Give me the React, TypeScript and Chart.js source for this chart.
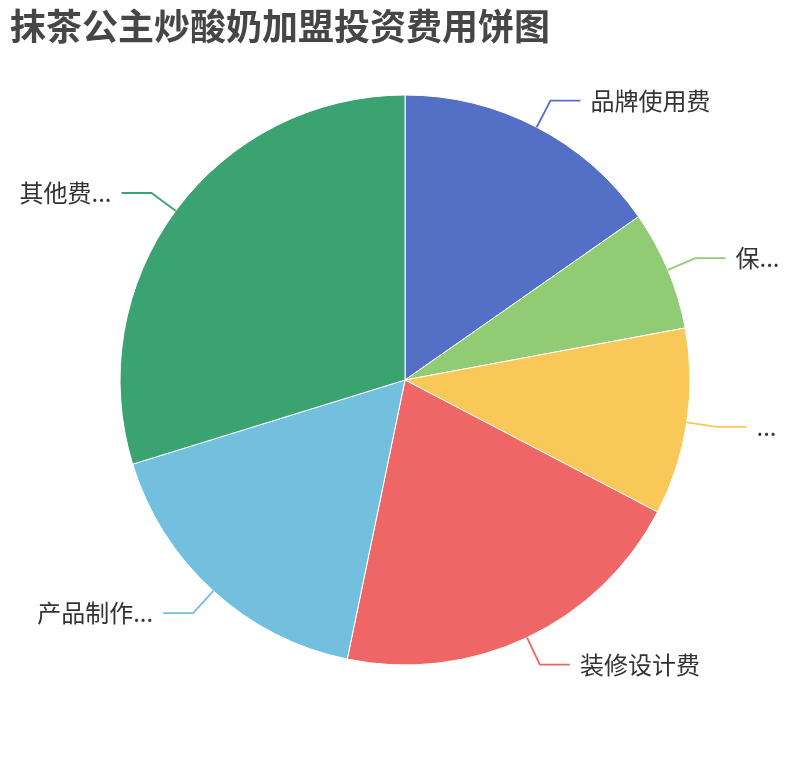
import { useEffect, useRef } from "react";
import { Chart, registerables } from "chart.js";

Chart.register(...registerables);

const TITLE = "抹茶公主炒酸奶加盟投资费用饼图";
const categories = ["品牌使用费", "保证金押金", "设备采购费", "装修设计费", "产品制作培训费", "其他费用合计"];
const values = [15.3, 6.8, 10.6, 20.6, 17.0, 29.8];
const colors = ["#5470c6", "#91cc75", "#fac858", "#ee6666", "#73c0de", "#3ba272"];

const FONT = '"Noto Sans CJK SC", "Noto Sans", sans-serif';

function fitText(ctx: CanvasRenderingContext2D, text: string, maxWidth: number) {
  if (ctx.measureText(text).width <= maxWidth) return text;
  let out = text;
  while (out.length > 0) {
    out = out.slice(0, -1);
    if (ctx.measureText(out + "...").width <= maxWidth) return out + "...";
  }
  return "...";
}

const outerLabels = {
  id: "outerLabels",
  afterDatasetsDraw(chart: Chart) {
    const { ctx, width } = chart;
    const meta = chart.getDatasetMeta(0);
    const edge = 16;
    ctx.save();
    meta.data.forEach((arc: any, i: number) => {
      const { x, y, startAngle, endAngle, outerRadius } = arc.getProps(
        ["x", "y", "startAngle", "endAngle", "outerRadius"],
        true
      );
      const mid = (startAngle + endAngle) / 2;
      const cos = Math.cos(mid);
      const sin = Math.sin(mid);
      const p1x = x + cos * outerRadius;
      const p1y = y + sin * outerRadius;
      const p2x = x + cos * (outerRadius + 30);
      const p2y = y + sin * (outerRadius + 30);
      const dir = cos >= 0 ? 1 : -1;
      const p3x = p2x + dir * 30;

      ctx.strokeStyle = colors[i];
      ctx.lineWidth = 1.8;
      ctx.beginPath();
      ctx.moveTo(p1x, p1y);
      ctx.lineTo(p2x, p2y);
      ctx.lineTo(p3x, p2y);
      ctx.stroke();

      const tx = p3x + dir * 10;
      ctx.font = `24px ${FONT}`;
      ctx.fillStyle = "#333";
      ctx.textBaseline = "middle";
      ctx.textAlign = dir > 0 ? "left" : "right";
      const avail = dir > 0 ? width - edge - tx : tx - edge;
      ctx.fillText(fitText(ctx, categories[i], avail), tx, p2y);
    });

    ctx.font = `bold 36px ${FONT}`;
    ctx.fillStyle = "#464646";
    ctx.textAlign = "left";
    ctx.textBaseline = "middle";
    ctx.fillText(TITLE, 10, 26);
    ctx.restore();
  },
};

export default function App() {
  const canvasRef = useRef<HTMLCanvasElement>(null);
  const chartRef = useRef<Chart<"pie"> | null>(null);

  useEffect(() => {
    document.body.style.margin = "0";
    if (!canvasRef.current) return;
    if (chartRef.current) chartRef.current.destroy();
    const ctx = canvasRef.current.getContext("2d");
    if (!ctx) return;

    chartRef.current = new Chart(ctx, {
      type: "pie",
      data: {
        labels: categories,
        datasets: [
          {
            data: values,
            backgroundColor: colors,
            borderColor: "#fff",
            borderWidth: 1,
            hoverBorderWidth: 1,
          },
        ],
      },
      options: {
        responsive: false,
        animation: false,
        layout: {
          padding: { left: 119.5, right: 119.5, top: 94.5, bottom: 94.5 },
        },
        plugins: {
          legend: { display: false },
          tooltip: { enabled: false },
          title: { display: false },
        },
      },
      plugins: [outerLabels],
    });

    return () => {
      if (chartRef.current) {
        chartRef.current.destroy();
        chartRef.current = null;
      }
    };
  }, []);

  return (
    <div style={{ width: 810, height: 760 }}>
      <canvas ref={canvasRef} width={810} height={760} />
    </div>
  );
}
